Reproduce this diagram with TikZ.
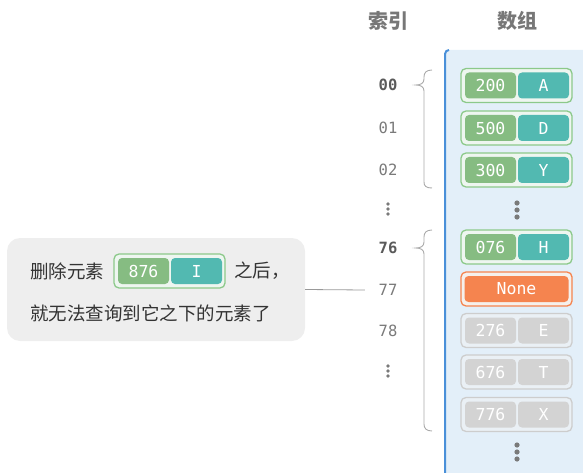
\documentclass[tikz,border=0pt]{standalone}
\usepackage{fontspec}
\newfontfamily\cjk{Noto Sans CJK SC}
\newfontfamily\monof{DejaVu Sans Mono}
\usetikzlibrary{calc}
\definecolor{gA}{HTML}{86BC82}
\definecolor{gB}{HTML}{52B9B1}
\definecolor{gborder}{HTML}{8CC98A}
\definecolor{gfill}{HTML}{EEF6F0}
\definecolor{xA}{HTML}{D3D3D3}
\definecolor{xB}{HTML}{D3D3D3}
\definecolor{xborder}{HTML}{CDCDCD}
\definecolor{xfill}{HTML}{EAF0F5}
\definecolor{oA}{HTML}{F5844F}
\definecolor{oborder}{HTML}{F5844F}
\definecolor{ofill}{HTML}{F5F0EC}
\definecolor{panelfill}{HTML}{E3EFF9}
\definecolor{panelline}{HTML}{4A90D9}
\definecolor{callfill}{HTML}{EEEEEE}
\definecolor{headc}{HTML}{777777}
\definecolor{idxb}{HTML}{5A5A5A}
\definecolor{idxn}{HTML}{7A7A7A}
\definecolor{linec}{HTML}{999999}
\definecolor{dotc}{HTML}{7A7A7A}
\definecolor{bracec}{HTML}{AAAAAA}
\definecolor{textc}{HTML}{333333}
\newcommand{\kvbox}[6]{%
  \node[outerb=#6] (#1) at (#2,#3) {};
  \node[innerb, fill=#6A] (#1k) at ($(#1.center)+(-26,0)$) {#4};
  \node[innerb, fill=#6B] (#1v) at ($(#1.center)+(27,0)$) {#5};
}
\newcommand{\vdotsat}[4]{%
  \fill[dotc] (#1,#2-#4) circle[radius=#3];
  \fill[dotc] (#1,#2) circle[radius=#3];
  \fill[dotc] (#1,#2+#4) circle[radius=#3];
}
\begin{document}
\begin{tikzpicture}[x=1pt,y=-1pt,
  outerb/.style={draw=#1border, fill=#1fill, line width=1.3pt, rounded corners=5pt,
    minimum width=111pt, minimum height=34pt, inner sep=0pt},
  innerb/.style={rounded corners=4pt, minimum width=51pt, minimum height=26pt, inner sep=0pt,
    text=white, font=\monof\fontsize{16.5}{16.5}\selectfont},
  idx/.style={minimum width=46pt, inner sep=0pt, text=idxn, font=\monof\fontsize{15.5}{15.5}\selectfont},
  idxbold/.style={idx, text=idxb, font=\monof\bfseries\fontsize{15.5}{15.5}\selectfont},
  head/.style={text=headc, font=\cjk\bfseries\fontsize{20}{20}\selectfont},
  ctext/.style={text=textc, font=\cjk\fontsize{18.5}{18.5}\selectfont, inner sep=0pt},
  bracel/.style={draw=bracec, line width=0.9pt},
]
\useasboundingbox (0,0) rectangle (583,473);
% panel
\fill[panelfill] (445,473) -- (445,54) arc[start angle=180,end angle=270,radius=4] -- (583,50) -- (583,473) -- cycle;
\draw[panelline, line width=2pt] (445,473) -- (445,54) arc[start angle=180,end angle=270,radius=4];
% headers
\node[head] (hidx) at (388,21) {索引};
\node[head] (harr) at (517,21) {数组};
% indices
\node[idxbold] (i00) at (388,85) {00};
\node[idx] (i01) at (388,128) {01};
\node[idx] (i02) at (388,170) {02};
\vdotsat{388}{209}{1.9}{5}
\node[idxbold] (i76) at (388,248) {76};
\node[idx] (i77) at (388,290) {77};
\node[idx] (i78) at (388,331) {78};
\vdotsat{388}{371}{1.9}{5}
% braces
\draw[bracel] (432,70) .. controls (426,70) and (424,73) .. (424,77) -- (424,79) .. controls (424,83) and (421,85) .. (416,85) .. controls (421,85) and (424,87) .. (424,91) -- (424,182) .. controls (424,186) and (426,188) .. (432,188);
\draw[bracel] (432,230) .. controls (426,230) and (424,233) .. (424,237) -- (424,242) .. controls (424,246) and (421,248) .. (416,248) .. controls (421,248) and (424,250) .. (424,254) -- (424,424) .. controls (424,428) and (426,431) .. (432,431);
% array
\kvbox{a0}{516.5}{85.5}{200}{A}{g}
\kvbox{a1}{516.5}{128}{500}{D}{g}
\kvbox{a2}{516.5}{170}{300}{Y}{g}
\vdotsat{517}{210}{2.6}{7}
\kvbox{a76}{516.5}{247}{076}{H}{g}
\node[outerb=o] (a77) at (516.5,289) {};
\node[innerb, fill=oA, minimum width=104pt] (a77v) at (a77.center) {None};
\kvbox{a78}{516.5}{330.5}{276}{E}{x}
\kvbox{a79}{516.5}{372}{676}{T}{x}
\kvbox{a80}{516.5}{414.5}{776}{X}{x}
\vdotsat{517}{452}{2.6}{7}
% callout
\node[fill=callfill, rounded corners=13pt, minimum width=298pt, minimum height=103pt, inner sep=0pt] (callout) at (156,289.5) {};
\node[ctext, anchor=west] (t1) at (30,271) {删除元素};
\kvbox{ce}{169.5}{271}{876}{I}{g}
\node[ctext, anchor=west] (t2) at (234,271) {之后，};
\node[ctext, anchor=west] (t3) at (30,313) {就无法查询到它之下的元素了};
\draw[linec, line width=0.8pt] (callout.east) -- (i77.west);
\end{tikzpicture}
\end{document}
